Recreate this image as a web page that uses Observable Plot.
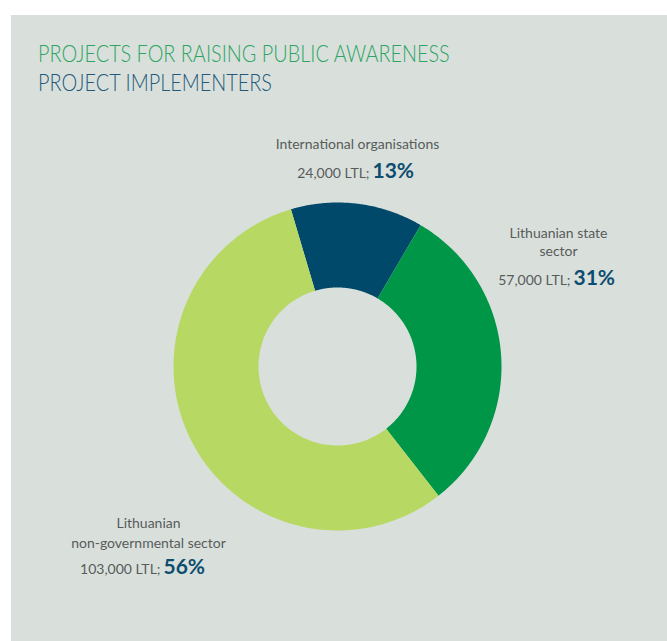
<!DOCTYPE html>
<html>
<head>
<meta charset="utf-8">
<script src="https://cdn.jsdelivr.net/npm/d3@7"></script>
<script src="https://cdn.jsdelivr.net/npm/@observablehq/plot@0.6"></script>
<style>
  html, body { margin: 0; padding: 0; background: #ffffff; }
  body { width: 667px; height: 641px; position: relative; overflow: hidden; font-family: Lato, "Open Sans", sans-serif; }
  #panel { position: absolute; left: 11px; top: 15px; width: 656px; height: 626px; background: #d9e0dc; }
  .t { position: absolute; left: 38px; font-family: Lato, sans-serif; font-weight: 300; font-size: 23.5px; white-space: nowrap; line-height: 1; transform: scaleX(0.845); transform-origin: 0 0; }
  #t1 { top: 42px; color: #2ea463; }
  #t2 { top: 71px; color: #23597a; }
  #chart { position: absolute; left: 0; top: 100px; }
</style>
</head>
<body>
<div id="panel"></div>
<div class="t" id="t1">PROJECTS FOR RAISING PUBLIC AWARENESS</div>
<div class="t" id="t2">PROJECT IMPLEMENTERS</div>
<div id="chart"></div>
<script>
// ---- data ----
const categories = ["International organisations", "Lithuanian state sector", "Lithuanian non-governmental sector"];
const amounts = [24000, 57000, 103000];
const amountLabels = ["24,000 LTL;", "57,000 LTL;", "103,000 LTL;"];
const percentLabels = ["13%", "31%", "56%"];
const nameLines = [["International organisations"], ["Lithuanian state", "sector"], ["Lithuanian", "non-governmental sector"]];
const colors = ["#00496b", "#009647", "#b8d864"];

// ---- layout (chart units = px, origin at donut centre, y up) ----
const W = 667, H = 541;
const cx = 337, cy = 266;           // centre inside svg
const outerR = 164, innerR = 79;
const startDeg = -16.5;
const labelPos = [               // centre x, first baseline y, line step, amount-line baseline y
  {x: 20,   y: 218, step: 19, yv: 189},
  {x: 221,  y: 129, step: 18, yv: 82},
  {x: -189, y: -161, step: 20, yv: -207}
];

const pie = d3.pie().sort(null).value(d => d.amount).startAngle(startDeg * Math.PI / 180).endAngle((startDeg + 360) * Math.PI / 180);
const table = categories.map((c, i) => ({category: c, amount: amounts[i]}));
const arcs = pie(table);

// polygon outline of each ring segment, angles measured clockwise from north
const poly = [];
arcs.forEach(a => {
  const n = 120;
  for (let k = 0; k <= n; k++) {
    const t = a.startAngle + (a.endAngle - a.startAngle) * k / n;
    poly.push({category: a.data.category, x: outerR * Math.sin(t), y: outerR * Math.cos(t)});
  }
  for (let k = n; k >= 0; k--) {
    const t = a.startAngle + (a.endAngle - a.startAngle) * k / n;
    poly.push({category: a.data.category, x: innerR * Math.sin(t), y: innerR * Math.cos(t)});
  }
});

const nameText = [];
nameLines.forEach((lines, i) => lines.forEach((s, j) => nameText.push({text: s, x: labelPos[i].x, y: labelPos[i].y - j * labelPos[i].step})));
const valText = categories.map((c, i) => ({amount: amountLabels[i], pct: percentLabels[i], x: labelPos[i].x + 12, y: labelPos[i].yv}));

const plot = Plot.plot({
  width: W, height: H,
  margin: 0,
  x: {domain: [-cx, W - cx], axis: null},
  y: {domain: [-(H - cy), cy], axis: null},
  color: {domain: categories, range: colors},
  style: {background: "transparent", overflow: "visible"},
  marks: [
    Plot.line(poly, {x: "x", y: "y", z: "category", fill: "category", stroke: "none", curve: "linear-closed"}),
    Plot.text(nameText, {x: "x", y: "y", text: "text", lineAnchor: "bottom", textAnchor: "middle", fill: "#585b5b", fontSize: 14, fontFamily: "Lato", fontWeight: 400}),
    Plot.text(valText, {x: "x", y: "y", text: "amount", lineAnchor: "bottom", textAnchor: "end", fill: "#585b5b", fontSize: 14, fontFamily: "Lato", fontWeight: 400}),
    Plot.text(valText, {x: "x", y: "y", text: "pct", dx: 3, lineAnchor: "bottom", textAnchor: "start", fill: "#0d4d6f", fontSize: 21, fontFamily: "Lato", fontWeight: 700})
  ]
});
document.getElementById("chart").appendChild(plot);
</script>
</body>
</html>
